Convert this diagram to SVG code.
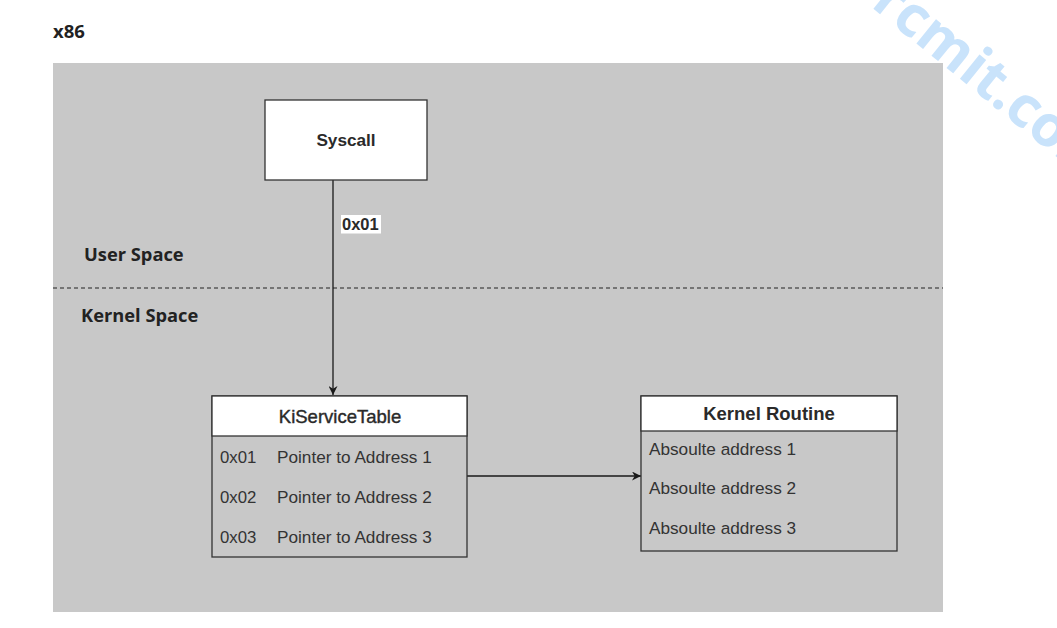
<svg xmlns="http://www.w3.org/2000/svg" width="1057" height="628" viewBox="0 0 1057 628">
<style>
.t{font-family:"Liberation Sans",Arial,sans-serif;fill:#2a2a2a}
.o{font-family:"Open Sans","Noto Sans",sans-serif;font-weight:bold;fill:#222222}
.b{font-weight:bold}
.r{fill:#333333}
.box{fill:#ffffff;stroke:#333333;stroke-width:1.3}
.body{fill:#c8c8c8;stroke:#333333;stroke-width:1.3}
.ln{stroke:#1a1a1a;stroke-width:1.3;fill:none}
</style>
<defs>
<marker id="ah" viewBox="0 0 10 10" refX="10" refY="5" markerWidth="9" markerHeight="9" markerUnits="userSpaceOnUse" orient="auto">
<path d="M0,0 L10,5 L0,10 L3,5 Z" fill="#1a1a1a"/>
</marker>
</defs>
<rect width="1057" height="628" fill="#ffffff"/>
<text transform="translate(870,6) rotate(39)" font-family="'Open Sans','Noto Sans',sans-serif" font-weight="bold" font-size="57" fill="#c9e3fb">rcmit.com</text>
<text class="o" x="53" y="38" font-size="18.5" fill="#333333">x86</text>
<rect x="53" y="63" width="890" height="549" fill="#c8c8c8"/>
<line x1="53" y1="288" x2="943" y2="288" stroke="#222222" stroke-width="1" stroke-dasharray="4,3"/>
<text class="o" x="84" y="261" font-size="18.3">User Space</text>
<text class="o" x="81" y="322" font-size="18.3">Kernel Space</text>
<g id="connectors">
<line class="ln" x1="333" y1="180" x2="333" y2="395" marker-end="url(#ah)"/>
<rect x="341" y="215" width="40" height="18.5" fill="#ffffff"/>
<text class="t b" x="342" y="230" font-size="16.5">0x01</text>
<line class="ln" x1="467" y1="476" x2="641" y2="476" marker-end="url(#ah)"/>
</g>
<g id="syscall">
<rect class="box" x="265" y="100" width="162" height="80"/>
<text class="t b" x="346" y="146" font-size="17.2" text-anchor="middle">Syscall</text>
</g>
<g id="kiservicetable">
<rect class="body" x="212" y="396" width="255" height="161"/>
<rect class="box" x="212" y="396" width="255" height="40"/>
<text class="t" x="340" y="423" font-size="18.5" text-anchor="middle" stroke="#2a2a2a" stroke-width="0.4">KiServiceTable</text>
<text class="t r" x="220" y="463" font-size="16.8">0x01</text>
<text class="t r" x="277" y="463" font-size="17.2">Pointer to Address 1</text>
<text class="t r" x="220" y="503" font-size="16.8">0x02</text>
<text class="t r" x="277" y="503" font-size="17.2">Pointer to Address 2</text>
<text class="t r" x="220" y="543" font-size="16.8">0x03</text>
<text class="t r" x="277" y="543" font-size="17.2">Pointer to Address 3</text>
</g>
<g id="kernelroutine">
<rect class="body" x="641" y="396" width="256" height="155"/>
<rect class="box" x="641" y="396" width="256" height="35"/>
<text class="t b" x="769" y="420" font-size="18.5" text-anchor="middle">Kernel Routine</text>
<text class="t r" x="649" y="455" font-size="17.2">Absoulte address 1</text>
<text class="t r" x="649" y="494" font-size="17.2">Absoulte address 2</text>
<text class="t r" x="649" y="534" font-size="17.2">Absoulte address 3</text>
</g>
</svg>
